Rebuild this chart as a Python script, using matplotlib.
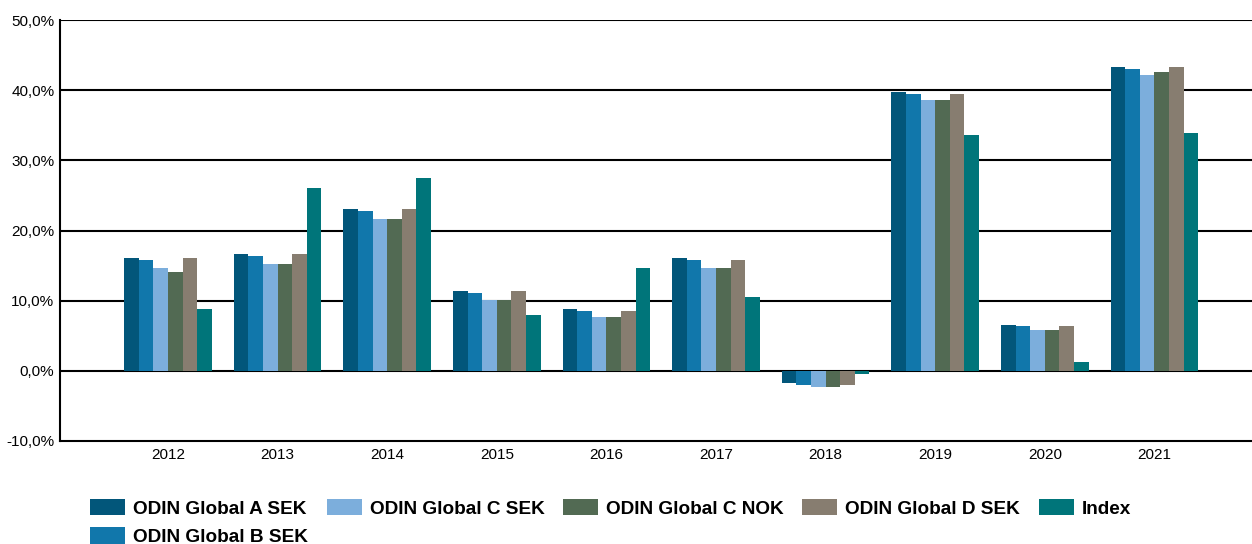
import numpy as np
import matplotlib
matplotlib.use('Agg')
from matplotlib import pyplot as plt
from matplotlib.ticker import FuncFormatter

#%%# data #%%#
years = ['2012', '2013', '2014', '2015', '2016', '2017', '2018', '2019', '2020', '2021']
globalA_SEK = [16.1, 16.7, 23.1, 11.4, 8.8, 16.1, -1.7, 39.7, 6.6, 43.3]
globalB_SEK = [15.8, 16.4, 22.8, 11.1, 8.5, 15.8, -2.0, 39.5, 6.4, 43.0]
globalC_SEK = [14.7, 15.2, 21.7, 10.1, 7.7, 14.7, -2.3, 38.6, 5.8, 42.2]
globalC_NOK = [14.1, 15.2, 21.7, 10.1, 7.7, 14.7, -2.3, 38.6, 5.8, 42.6]
globalD_SEK = [16.1, 16.7, 23.1, 11.4, 8.5, 15.8, -2.0, 39.5, 6.4, 43.3]
index = [8.8, 26.1, 27.5, 8.0, 14.7, 10.5, -0.5, 33.6, 1.3, 33.9]

names = ['ODIN Global A SEK', 'ODIN Global B SEK', 'ODIN Global C SEK',
         'ODIN Global C NOK', 'ODIN Global D SEK', 'Index']
colors = ['#02567a', '#1177ab', '#7caedc', '#526a53', '#877d70', '#00757a']
series = [globalA_SEK, globalB_SEK, globalC_SEK, globalC_NOK, globalD_SEK, index]

fontList = ['Liberation Sans', 'DejaVu Sans']
plt.rcParams['font.family'] = fontList

#%%# plot #%%#
fig = plt.figure(figsize=(12.52, 5.44), dpi=100)
ax = fig.add_axes([60/1252, 1-441/544, 1-60/1252, (441-20)/544])

x = np.arange(len(years))
nSer = len(series)
barW = 0.8/nSer
for i in range(nSer):
    ax.bar(x - 0.4 + barW*(i+0.5), series[i], barW, color=colors[i],
           label=names[i], zorder=3)

ax.set_ylim(-10, 50)
ax.set_xlim(-0.985, 9.89)
ax.set_yticks(np.arange(-10, 51, 10))
ax.yaxis.set_major_formatter(FuncFormatter(lambda v, p: f'{v:.1f}%'.replace('.', ',')))
ax.set_xticks(x)
ax.set_xticklabels(years)
ax.tick_params(axis='both', length=0, labelsize=11, colors='black')
ax.tick_params(axis='y', pad=4)
ax.tick_params(axis='x', pad=5)

for yv in range(0, 51, 10):
    ax.axhline(yv, color='black', lw=1.5, zorder=1)

for s in ['top', 'right']: ax.spines[s].set_visible(False)
ax.spines['left'].set_linewidth(1.5)
ax.spines['bottom'].set_linewidth(1.5)

# legend below plot, 5 columns (A and B share the first column)
fs = 13.7
pxPerEm = fs*100/72
leg = fig.legend(loc='upper left', bbox_to_anchor=(90/1252, 1-499/544), ncol=5,
                 frameon=False, prop={'family': fontList, 'weight': 'bold', 'size': fs},
                 handlelength=35/pxPerEm, handleheight=18/pxPerEm,
                 columnspacing=18.5/pxPerEm, handletextpad=8/pxPerEm,
                 labelspacing=0.5, borderaxespad=0, borderpad=0)

fig.savefig('out.png', dpi=100)
